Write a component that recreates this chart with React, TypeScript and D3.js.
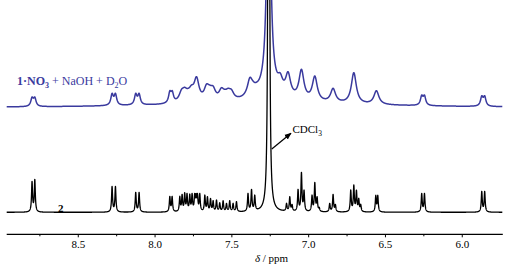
import React from "react";
import * as d3 from "d3";

// ---- axis ----
const majorTicks = [8.5, 8.0, 7.5, 7.0, 6.5, 6.0];
const minorTicks = [8.75, 8.25, 7.75, 7.25, 6.75, 6.25];
const ppmDomain: [number, number] = [8.966, 5.736];

// ---- spectrum 2 (black): [ppm, apex intensity, half-width ppm]
const blackPeaks: [number, number, number][] = [
  [8.801, 31, 0.0039], [8.783, 33, 0.0039],
  [8.28, 26, 0.0039], [8.258, 26, 0.0039],
  [8.126, 20, 0.0039], [8.104, 20, 0.0039],
  [7.904, 16, 0.0039], [7.889, 16, 0.0039],
  [7.839, 16, 0.0039], [7.824, 18, 0.0039], [7.807, 19.7, 0.0039], [7.792, 19, 0.0039],
  [7.774, 18.3, 0.0039], [7.759, 19, 0.0039], [7.742, 19, 0.0039], [7.733, 19, 0.0039],
  [7.724, 19, 0.0039], [7.709, 19, 0.0039],
  [7.676, 17.3, 0.0039], [7.659, 15.7, 0.0039], [7.639, 14, 0.0039], [7.622, 11.7, 0.0039],
  [7.6, 12.3, 0.0039], [7.579, 9.7, 0.0039], [7.557, 11.7, 0.0039], [7.535, 9, 0.0039],
  [7.514, 11.7, 0.0039], [7.492, 9, 0.0039], [7.47, 10.7, 0.0039],
  [7.395, 19, 0.0039], [7.372, 23, 0.0039], [7.351, 17.3, 0.0039],
  [7.26, 2000, 0.0026],
  [7.144, 9, 0.0039], [7.123, 15.7, 0.0039], [7.108, 8, 0.0039],
  [7.069, 23, 0.0039], [7.047, 40, 0.0039], [7.03, 22.3, 0.0039],
  [6.978, 17.3, 0.0039], [6.96, 30, 0.0039], [6.945, 15.7, 0.0039], [6.931, 5, 0.0039],
  [6.863, 9, 0.0039], [6.841, 18, 0.0039], [6.826, 8, 0.0039],
  [6.726, 22.3, 0.0039], [6.706, 27.3, 0.0039], [6.689, 22.3, 0.0039], [6.674, 14, 0.0039],
  [6.661, 8, 0.0039],
  [6.563, 17, 0.0039], [6.55, 17, 0.0039],
  [6.264, 19, 0.0039], [6.246, 19, 0.0039],
  [5.873, 21, 0.0039], [5.854, 21, 0.0039],
];

// ---- spectrum 1·NO3 + NaOH + D2O (blue): [ppm, apex intensity, half-width ppm]
const bluePeaks: [number, number, number][] = [
  [8.801, 11, 0.0098], [8.783, 11, 0.0098],
  [8.28, 14.7, 0.0098], [8.258, 14.7, 0.0098],
  [8.126, 14.7, 0.0098], [8.104, 14.7, 0.0098],
  [7.904, 17.3, 0.0098], [7.888, 17.3, 0.0098],
  [7.828, 18.7, 0.0195], [7.807, 20.7, 0.0195], [7.785, 19.7, 0.0195], [7.763, 23, 0.0195],
  [7.73, 31.3, 0.0195],
  [7.665, 24, 0.0195], [7.644, 23, 0.0195], [7.622, 22, 0.0195],
  [7.568, 20.3, 0.0195], [7.546, 18.7, 0.0195], [7.525, 19.7, 0.0195], [7.503, 18.7, 0.0195],
  [7.383, 30.5, 0.0195], [7.362, 27, 0.0195], [7.338, 26, 0.0195],
  [7.26, 300, 0.013],
  [7.221, 45, 0.0195],
  [7.185, 35, 0.0195],
  [7.134, 36.3, 0.0195], [7.047, 38.7, 0.0195], [6.96, 32, 0.0195],
  [6.841, 19.7, 0.0195], [6.706, 35.3, 0.0195], [6.559, 17.3, 0.0195],
  [6.264, 13, 0.0098], [6.246, 13, 0.0098],
  [5.873, 12.3, 0.0098], [5.854, 12.3, 0.0098],
];
// broad background humps of the blue trace: [ppm, height, half-width ppm]
const blueBackground: [number, number, number][] = [
  [7.26, 4, 0.98],
  [7.26, 12, 0.098],
];

const W = 516;
const H = 269;
const blackBase = 212.3;
const blueBase = 108;

function lor(x: number, x0: number, h: number, g: number) {
  const u = (x - x0) / g;
  return h / (1 + u * u);
}

function buildSpectrum(peaks: [number, number, number][], bg: [number, number, number][]) {
  const bgAt = (x: number) => bg.reduce((s, b) => s + lor(x, b[0], b[1], b[2]), 0);
  const h = peaks.map((p) => Math.max(0, p[1] - bgAt(p[0])));
  for (let it = 0; it < 300; it++) {
    for (let i = 0; i < peaks.length; i++) {
      let s = bgAt(peaks[i][0]);
      for (let j = 0; j < peaks.length; j++) s += lor(peaks[i][0], peaks[j][0], h[j], peaks[j][2]);
      h[i] = Math.max(0, h[i] + (peaks[i][1] - s));
    }
  }
  const pts: [number, number][] = [];
  for (let x = ppmDomain[0]; x >= ppmDomain[1] + 0.003; x -= 0.0004) {
    let s = bgAt(x);
    for (let j = 0; j < peaks.length; j++) s += lor(x, peaks[j][0], h[j], peaks[j][2]);
    pts.push([x, s]);
  }
  return pts;
}

export default function App() {
  const x = d3.scaleLinear().domain(ppmDomain).range([6.7, 502.8]);
  const yBlack = d3.scaleLinear().domain([0, 100]).range([blackBase, blackBase - 100]);
  const yBlue = d3.scaleLinear().domain([0, 100]).range([blueBase, blueBase - 100]);

  const blackPts = buildSpectrum(blackPeaks, []);
  const bluePts = buildSpectrum(bluePeaks, blueBackground);

  const lineBlack = d3
    .line<[number, number]>()
    .x((d) => x(d[0]))
    .y((d) => Math.max(-3, yBlack(d[1])));
  const lineBlue = d3
    .line<[number, number]>()
    .x((d) => x(d[0]))
    .y((d) => Math.max(-3, yBlue(d[1])));

  const axisY = 234.3;
  const font = "'Liberation Serif', 'Times New Roman', serif";
  const blue = "#3a3a9e";

  return (
    <svg
      width={W}
      height={H}
      style={{ position: "absolute", left: 0, top: 0, background: "#fff" }}
      fontFamily={font}
    >
      <path d={lineBlue(bluePts) || ""} fill="none" stroke={blue} strokeWidth={1.5} strokeLinejoin="round" />
      <path d={lineBlack(blackPts) || ""} fill="none" stroke="#000" strokeWidth={1.3} strokeLinejoin="round" />

      {/* axis */}
      <line x1={x(ppmDomain[0])} x2={x(ppmDomain[1])} y1={axisY} y2={axisY} stroke="#000" strokeWidth={1.3} />
      {majorTicks.map((t) => (
        <g key={"M" + t}>
          <line x1={x(t)} x2={x(t)} y1={axisY} y2={axisY + 3} stroke="#000" strokeWidth={1} />
          <text x={x(t)} y={248.3} fontSize={11} textAnchor="middle" fill="#000">
            {d3.format(".1f")(t)}
          </text>
        </g>
      ))}
      {minorTicks.map((t) => (
        <line key={"m" + t} x1={x(t)} x2={x(t)} y1={axisY} y2={axisY + 2} stroke="#000" strokeWidth={1} />
      ))}
      <text x={271.5} y={261.7} fontSize={11} textAnchor="middle" fill="#000">
        <tspan fontStyle="italic">δ</tspan> / ppm
      </text>

      {/* labels */}
      <text x={17} y={85} fontSize={12} fill={blue}>
        <tspan fontWeight="bold">1·NO</tspan>
        <tspan fontWeight="bold" fontSize={8} dy={2.5}>3</tspan>
        <tspan dy={-2.5}> + NaOH + D</tspan>
        <tspan fontSize={8} dy={2.5}>2</tspan>
        <tspan dy={-2.5}>O</tspan>
      </text>
      <text x={60.7} y={211.5} fontSize={11} fontWeight="bold" textAnchor="middle" fill="#000">
        2
      </text>

      <defs>
        <marker id="arr" viewBox="0 0 10 10" refX="9" refY="5" markerWidth="6" markerHeight="6" orient="auto">
          <path d="M0,1 L10,5 L0,9 z" fill="#000" />
        </marker>
      </defs>
      <line x1={271.8} y1={149} x2={291} y2={133.2} stroke="#000" strokeWidth={1.2} markerEnd="url(#arr)" />
      <text x={292.5} y={133.3} fontSize={11} fill="#000">
        CDCl<tspan fontSize={7.5} dy={2.5}>3</tspan>
      </text>
    </svg>
  );
}
